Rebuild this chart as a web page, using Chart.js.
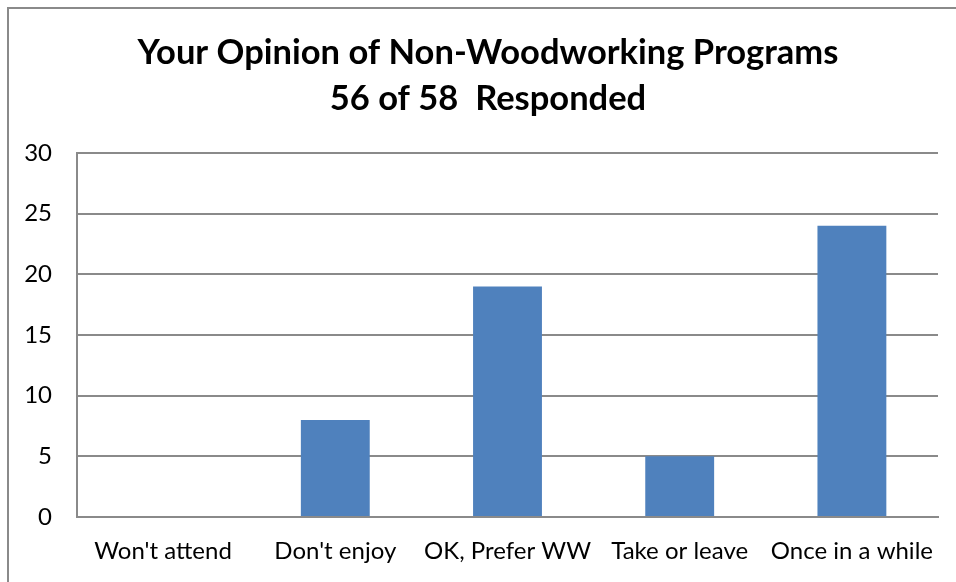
<!DOCTYPE html>
<html>
<head>
<meta charset="utf-8">
<script src="https://cdn.jsdelivr.net/npm/chart.js@4/dist/chart.umd.min.js"></script>
<style>
  body { margin: 0; overflow: hidden; background: #fff; }
  #frame { position: absolute; left: 7px; top: 7px; width: 1000px; height: 1000px; border: 2px solid #8a8a8a; }
  #wrap { position: absolute; left: 0; top: 0; width: 956px; height: 582px; }
</style>
</head>
<body>
<div id="frame"></div>
<div id="wrap"><canvas id="opinions" width="956" height="582"></canvas></div>
<script>
const categories = ["Won't attend", "Don't enjoy", 'OK, Prefer WW', 'Take or leave', 'Once in a while']
const responses = [0, 8, 19, 5, 24]
const titleLines = ['Your Opinion of Non-Woodworking Programs', '56 of 58  Responded']

const fontFamily = "Lato, 'Open Sans', sans-serif"

// the title sits a bit left of the plot centre, so it is drawn here instead of the title plugin
const chartTitle = {
  id: 'chartTitle',
  afterDraw(chart) {
    const c = chart.ctx
    c.save()
    c.fillStyle = '#000'
    c.font = "bold 34.5px " + fontFamily
    c.textAlign = 'center'
    c.textBaseline = 'middle'
    titleLines.forEach((line, i) => c.fillText(line, 488, 53 + i * 46))
    c.restore()
  }
}

const ctx = document.querySelector('#opinions')
new Chart(ctx, {
  type: 'bar',
  data: {
    labels: categories,
    datasets: [{
      label: 'Responses',
      data: responses,
      backgroundColor: '#4f81bd',
      categoryPercentage: 1,
      barPercentage: 0.4
    }]
  },
  options: {
    responsive: false,
    animation: false,
    layout: { padding: { left: 8, right: 18, top: 153, bottom: 16 } },
    plugins: {
      legend: { display: false },
      tooltip: { enabled: false },
      title: { display: false }
    },
    scales: {
      x: {
        afterFit: (scale) => { scale.height = 49 },
        grid: { display: false, drawTicks: false },
        border: { color: '#8a8a8a', width: 2 },
        ticks: { color: '#000', padding: 20, font: { family: fontFamily, size: 24 }, maxRotation: 0 }
      },
      y: {
        min: 0,
        max: 30,
        afterFit: (scale) => { scale.width = 69 },
        grid: { color: '#8a8a8a', lineWidth: 2, drawTicks: false },
        border: { color: '#8a8a8a', width: 2 },
        ticks: { stepSize: 5, color: '#000', padding: 25, font: { family: fontFamily, size: 24 } }
      }
    }
  },
  plugins: [chartTitle]
})
</script>
</body>
</html>
